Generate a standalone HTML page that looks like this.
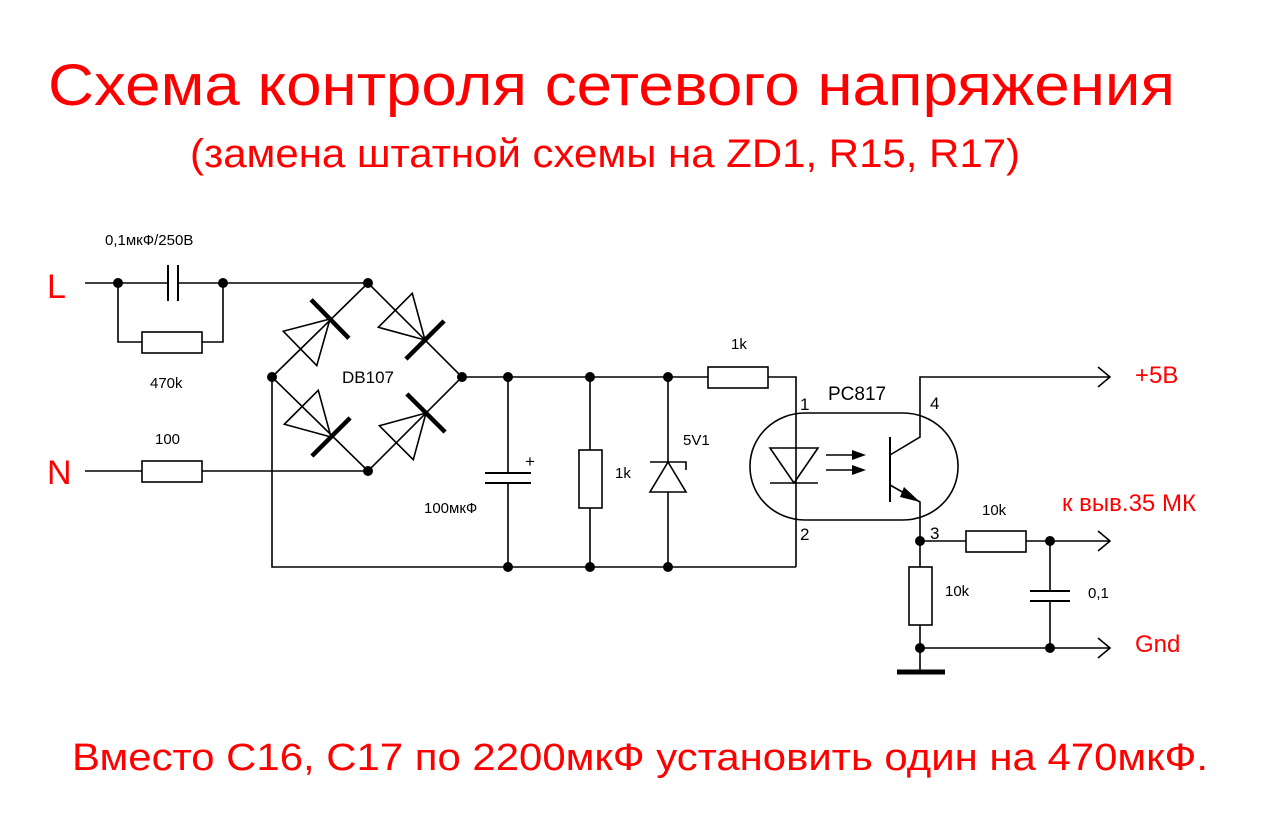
<!DOCTYPE html>
<html><head><meta charset="utf-8"><style>body{margin:0;background:#fff}svg{display:block}</style></head>
<body>
<svg width="1286" height="827" viewBox="0 0 1286 827" xmlns="http://www.w3.org/2000/svg" font-family="Liberation Sans, DejaVu Sans, sans-serif">
<defs>
<g id="d"><polygon points="-42,-24 -42,24 0,0" fill="none" stroke="#000" stroke-width="1.6"/><line x1="0" y1="-27" x2="0" y2="27" stroke="#000" stroke-width="4.5"/></g>
</defs>
<rect width="1286" height="827" fill="#fff"/>
<g fill="#f00">
<text x="48" y="105" font-size="58" textLength="1127" lengthAdjust="spacingAndGlyphs">Схема контроля сетевого напряжения</text>
<text x="190" y="167" font-size="40" textLength="830" lengthAdjust="spacingAndGlyphs">(замена штатной схемы на ZD1, R15, R17)</text>
<text x="72" y="770" font-size="38" textLength="1136" lengthAdjust="spacingAndGlyphs">Вместо C16, C17 по 2200мкФ установить один на 470мкФ.</text>
<text x="47" y="298" font-size="34">L</text>
<text x="47" y="484" font-size="34">N</text>
<text x="1135" y="383" font-size="24">+5В</text>
<text x="1062" y="511" font-size="24">к выв.35 МК</text>
<text x="1135" y="652" font-size="24">Gnd</text>
</g>
<g stroke="#000" stroke-width="1.6" fill="none">
<!-- L branch -->
<path d="M85 283H168M178 283H368"/>
<path d="M168 265V301M178 265V301" stroke-width="2"/>
<path d="M118 283V342H142M202 342H223V283"/>
<rect x="142" y="332" width="60" height="21" fill="#fff"/>
<!-- N branch -->
<path d="M85 471H142M202 471H368"/>
<rect x="142" y="461" width="60" height="21" fill="#fff"/>
<!-- bridge -->
<path d="M272 377L368 283L462 377L368 471Z"/>
<path d="M272 377V567H796"/>
<path d="M462 377H708M768 377H796V567"/>
<rect x="708" y="367" width="60" height="21" fill="#fff"/>
<!-- electrolytic cap -->
<path d="M508 377V473M508 483V567"/>
<path d="M485 473H531M485 483H531" stroke-width="2"/>
<!-- 1k vertical -->
<path d="M590 377V450M590 508V567"/>
<rect x="579" y="450" width="23" height="58" fill="#fff"/>
<!-- zener -->
<path d="M668 377V567"/>
<polygon points="650,492 686,492 668,462" fill="#fff"/>
<path d="M650 462H686V470"/>
<!-- optocoupler -->
<rect x="750" y="413" width="208" height="107" rx="55" ry="53"/>
<polygon points="770,448 818,448 794,483"/>
<path d="M770 483H818"/>
<path d="M826 455H852M826 470H852"/>
<path d="M890 437V502" stroke-width="2"/>
<path d="M890 455L920 437V377H1110M1098 367L1110 377L1098 387"/>
<path d="M890 485L920 502V541"/>
<!-- output -->
<path d="M920 541H966M1026 541H1110M1098 531L1110 541L1098 551"/>
<rect x="966" y="531" width="60" height="21" fill="#fff"/>
<path d="M920 541V567M920 625V672"/>
<rect x="909" y="567" width="23" height="58" fill="#fff"/>
<path d="M1050 541V591M1050 601V648"/>
<path d="M1030 591H1070M1030 601H1070" stroke-width="2"/>
<path d="M920 648H1110M1098 638L1110 648L1098 658"/>
<path d="M897 672H945" stroke-width="5"/>
</g>
<polygon points="852,450 866,455 852,460" fill="#000"/>
<polygon points="852,465 866,470 852,475" fill="#000"/>
<polygon points="904,487 920,502 900,497" fill="#000"/>
<use href="#d" transform="translate(330,319) rotate(-44.4)"/>
<use href="#d" transform="translate(425,340) rotate(45)"/>
<use href="#d" transform="translate(331,437) rotate(45)"/>
<use href="#d" transform="translate(426,413) rotate(-45)"/>
<g fill="#000">
<circle cx="118" cy="283" r="5"/><circle cx="223" cy="283" r="5"/><circle cx="368" cy="283" r="5"/>
<circle cx="272" cy="377" r="5"/><circle cx="462" cy="377" r="5"/><circle cx="368" cy="471" r="5"/>
<circle cx="508" cy="377" r="5"/><circle cx="590" cy="377" r="5"/><circle cx="668" cy="377" r="5"/>
<circle cx="508" cy="567" r="5"/><circle cx="590" cy="567" r="5"/><circle cx="668" cy="567" r="5"/>
<circle cx="920" cy="541" r="5"/><circle cx="1050" cy="541" r="5"/><circle cx="920" cy="648" r="5"/><circle cx="1050" cy="648" r="5"/>
</g>
<g font-size="15" fill="#000">
<text x="105" y="245">0,1мкФ/250В</text>
<text x="150" y="388">470k</text>
<text x="155" y="444">100</text>
<text x="342" y="383" font-size="17">DB107</text>
<text x="525" y="467" font-size="17">+</text>
<text x="424" y="513">100мкФ</text>
<text x="615" y="478">1k</text>
<text x="683" y="445">5V1</text>
<text x="731" y="349">1k</text>
<text x="828" y="400" font-size="19">PC817</text>
<text x="800" y="410" font-size="17">1</text>
<text x="800" y="540" font-size="17">2</text>
<text x="930" y="409" font-size="17">4</text>
<text x="930" y="539" font-size="17">3</text>
<text x="982" y="515">10k</text>
<text x="945" y="596">10k</text>
<text x="1088" y="598">0,1</text>
</g>
</svg>
</body></html>
